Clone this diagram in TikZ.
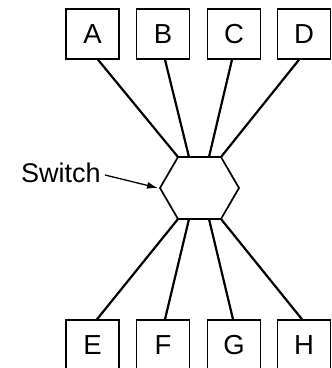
\documentclass[tikz,border=0pt]{standalone}
\usepackage{fontspec}
\setmainfont{Liberation Sans}
\usetikzlibrary{calc,arrows.meta}
\begin{document}
\begin{tikzpicture}[x=1pt,y=-1pt,
  station/.style={draw,line width=1.4pt,minimum width=53pt,minimum height=50pt,inner sep=0pt,
    font=\fontsize{27.5}{30}\selectfont},
  wire/.style={line width=2.2pt},
  hexedge/.style={line width=1.7pt},
  pointer/.style={line width=1.3pt,-{Latex[length=11pt,width=7pt]}}]
\useasboundingbox (0,0) rectangle (332,368);
\clip (0,0) rectangle (332,368);
% stations
\node[station] (A) at (92.5,34) {A};
\node[station] (B) at (163,34) {B};
\node[station] (C) at (234,34) {C};
\node[station] (D) at (304,34) {D};
\node[station] (E) at (92.5,345) {E};
\node[station] (F) at (163,345) {F};
\node[station] (G) at (234,345) {G};
\node[station] (H) at (304,345) {H};
% switch hexagon corners
\coordinate (h1) at (160,188);
\coordinate (h2) at (178,157);
\coordinate (h3) at (221,157);
\coordinate (h4) at (239,188);
\coordinate (h5) at (221,219);
\coordinate (h6) at (178,219);
\coordinate (tb) at (189,157);
\coordinate (tc) at (209,157);
\coordinate (bf) at (189,219);
\coordinate (bg) at (209,219);
\draw[hexedge,line join=miter] (h1) -- (h2) -- (h3) -- (h4) -- (h5) -- (h6) -- cycle;
% wires
\draw[wire] ($(A.south)+(5.5,0)$) -- (h2);
\draw[wire] ($(B.south)+(2,0)$) -- (tb);
\draw[wire] ($(C.south)+(-2,0)$) -- (tc);
\draw[wire] ($(D.south)+(-5,0)$) -- (h3);
\draw[wire] ($(E.north)+(4.5,0)$) -- (h6);
\draw[wire] ($(F.north)+(2,0)$) -- (bf);
\draw[wire] ($(G.north)+(-1,0)$) -- (bg);
\draw[wire] ($(H.north)+(-2,0)$) -- (h5);
% label
\node[font=\fontsize{27}{30}\selectfont,anchor=base west,inner sep=0pt] (sw) at (21,182) {Switch};
\coordinate (tip) at (158,188);
\draw[pointer] (105,175) -- (tip);
\end{tikzpicture}
\end{document}
